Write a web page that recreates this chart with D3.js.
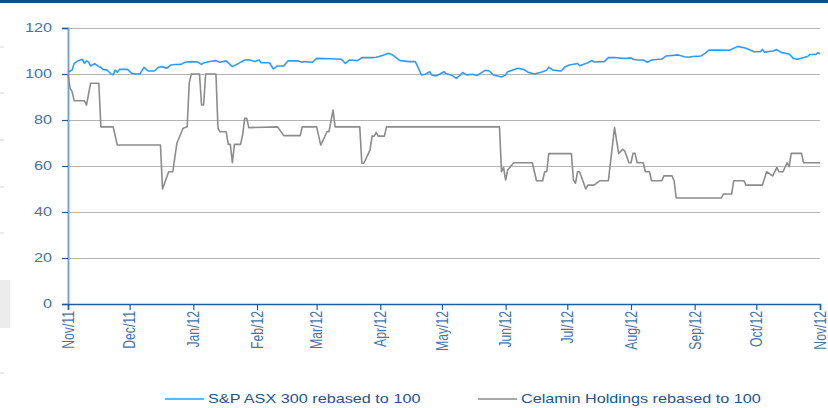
<!DOCTYPE html>
<html><head><meta charset="utf-8">
<script src="https://cdn.jsdelivr.net/npm/d3@7"></script>
<style>
html,body{margin:0;padding:0;background:#fff;}
svg{display:block;font-family:"Liberation Sans",Arial,Helvetica,sans-serif;}
</style></head>
<body>
<svg id="chart" width="828" height="408"></svg>
<script>
// ---------- DATA ----------
const seriesNames = ["S&P ASX 300 rebased to 100", "Celamin Holdings rebased to 100"];
const yTicks = [0, 20, 40, 60, 80, 100, 120];
const xTickLabels = ["Nov/11","Dec/11","Jan/12","Feb/12","Mar/12","Apr/12","May/12","Jun/12","Jul/12","Aug/12","Sep/12","Oct/12","Nov/12"];
const xTickDates = ["2011-11-01","2011-12-01","2012-01-01","2012-02-01","2012-03-01","2012-04-01","2012-05-01","2012-06-01","2012-07-01","2012-08-01","2012-09-01","2012-10-01","2012-11-01"];

const asxDates = ["2011-11-01","2011-11-03","2011-11-04","2011-11-06","2011-11-08","2011-11-09","2011-11-10","2011-11-11","2011-11-12","2011-11-14","2011-11-16","2011-11-17","2011-11-18","2011-11-20","2011-11-22","2011-11-23","2011-11-24","2011-11-25","2011-11-26","2011-11-30","2011-12-02","2011-12-04","2011-12-06","2011-12-08","2011-12-10","2011-12-13","2011-12-15","2011-12-17","2011-12-19","2011-12-21","2011-12-23","2011-12-26","2011-12-28","2011-12-31","2012-01-03","2012-01-05","2012-01-06","2012-01-09","2012-01-12","2012-01-14","2012-01-17","2012-01-20","2012-01-23","2012-01-26","2012-01-28","2012-01-31","2012-02-02","2012-02-03","2012-02-07","2012-02-09","2012-02-11","2012-02-14","2012-02-16","2012-02-21","2012-02-23","2012-02-24","2012-02-28","2012-03-01","2012-03-08","2012-03-13","2012-03-15","2012-03-17","2012-03-21","2012-03-23","2012-03-28","2012-03-30","2012-04-02","2012-04-05","2012-04-07","2012-04-10","2012-04-11","2012-04-15","2012-04-18","2012-04-19","2012-04-21","2012-04-23","2012-04-25","2012-04-26","2012-04-28","2012-04-30","2012-05-02","2012-05-03","2012-05-06","2012-05-08","2012-05-10","2012-05-11","2012-05-13","2012-05-16","2012-05-18","2012-05-22","2012-05-24","2012-05-26","2012-05-30","2012-06-01","2012-06-02","2012-06-07","2012-06-10","2012-06-12","2012-06-15","2012-06-19","2012-06-21","2012-06-22","2012-06-24","2012-06-28","2012-06-30","2012-07-02","2012-07-06","2012-07-07","2012-07-11","2012-07-13","2012-07-14","2012-07-19","2012-07-21","2012-07-24","2012-07-28","2012-07-30","2012-08-01","2012-08-02","2012-08-04","2012-08-07","2012-08-09","2012-08-11","2012-08-16","2012-08-18","2012-08-24","2012-08-27","2012-08-29","2012-08-31","2012-09-04","2012-09-06","2012-09-08","2012-09-12","2012-09-18","2012-09-22","2012-09-26","2012-09-30","2012-10-03","2012-10-04","2012-10-05","2012-10-09","2012-10-11","2012-10-13","2012-10-17","2012-10-19","2012-10-21","2012-10-24","2012-10-26","2012-10-27","2012-10-30","2012-10-31","2012-11-01"];
const asxValues = [100.9,101.7,104.6,105.8,106.4,104.6,105.7,105.2,103.5,104.5,103.2,102.9,102.0,101.7,100.0,99.7,101.7,100.7,102.0,102.0,100.3,100.0,100.0,102.9,101.3,101.3,102.9,103.2,102.5,103.9,104.1,104.2,105.1,105.4,105.2,104.2,104.8,105.4,105.8,105.1,105.7,103.2,104.6,106.1,106.2,105.4,106.1,104.9,104.9,102.2,103.5,103.5,105.7,105.7,105.1,105.4,105.1,106.8,106.6,106.4,104.6,106.1,105.8,107.1,107.1,107.3,108.0,109.0,108.3,106.1,105.8,105.4,105.4,103.6,99.6,99.9,101.0,99.6,99.1,100.0,101.0,100.2,99.3,98.1,99.6,100.7,99.6,99.9,99.3,101.6,101.3,99.6,98.7,99.6,101.0,102.5,101.9,100.7,100.0,101.0,101.7,103.0,101.7,101.3,103.2,103.9,104.6,103.6,104.9,105.9,105.2,105.4,107.1,107.2,106.8,106.8,107.0,106.4,106.1,106.1,105.1,106.1,106.5,107.8,108.3,107.5,107.3,107.6,107.8,109.0,110.4,110.4,110.3,112.0,111.2,109.7,109.7,110.7,109.5,110.0,110.6,109.4,108.7,106.8,106.4,107.2,107.6,108.5,108.5,109.3,108.8];

const celDates = ["2011-11-01","2011-11-02","2011-11-03","2011-11-04","2011-11-09","2011-11-10","2011-11-12","2011-11-16","2011-11-17","2011-11-23","2011-11-25","2011-12-16","2011-12-17","2011-12-20","2011-12-22","2011-12-24","2011-12-27","2011-12-29","2011-12-30","2011-12-31","2012-01-04","2012-01-05","2012-01-06","2012-01-07","2012-01-12","2012-01-13","2012-01-14","2012-01-17","2012-01-18","2012-01-19","2012-01-20","2012-01-21","2012-01-24","2012-01-25","2012-01-26","2012-01-27","2012-01-28","2012-02-11","2012-02-14","2012-02-22","2012-02-23","2012-03-01","2012-03-03","2012-03-05","2012-03-06","2012-03-07","2012-03-09","2012-03-10","2012-03-22","2012-03-23","2012-03-24","2012-03-27","2012-03-28","2012-03-29","2012-03-30","2012-03-31","2012-04-03","2012-04-04","2012-05-29","2012-05-30","2012-05-31","2012-06-01","2012-06-02","2012-06-05","2012-06-14","2012-06-16","2012-06-19","2012-06-20","2012-06-21","2012-06-22","2012-07-03","2012-07-04","2012-07-05","2012-07-06","2012-07-07","2012-07-10","2012-07-11","2012-07-14","2012-07-17","2012-07-21","2012-07-24","2012-07-26","2012-07-28","2012-07-29","2012-07-31","2012-08-01","2012-08-02","2012-08-03","2012-08-04","2012-08-07","2012-08-08","2012-08-10","2012-08-11","2012-08-16","2012-08-17","2012-08-21","2012-08-22","2012-08-23","2012-09-14","2012-09-15","2012-09-19","2012-09-20","2012-09-25","2012-09-26","2012-10-04","2012-10-06","2012-10-09","2012-10-11","2012-10-12","2012-10-14","2012-10-16","2012-10-17","2012-10-18","2012-10-23","2012-10-24","2012-11-01"];
const celValues = [100,93.8,92.3,88.4,88.4,86.5,96,96,77,77,69.1,69.1,50,57.5,57.5,69.9,76.4,77.1,96,100,100,86.5,86.5,100,100,76.4,74.9,74.9,69.4,69.4,61.4,69.4,69.4,73.5,80.7,80.7,76.7,77,73.2,73.2,77,77,69.1,72.8,74.9,74.9,84.3,77,77,61.2,61.2,67,73,73,74.6,73,73,77,77,57.5,59.3,53.9,58.3,61.4,61.4,53.6,53.6,57.5,57.5,65.4,65.4,53.9,52.5,57.5,57.5,50,51.7,51.7,53.6,53.6,76.7,65.5,67.2,66.5,61.4,61.4,65.5,65.5,61.4,61.4,57.5,57.5,53.6,53.6,55.7,55.7,53.6,46.1,46.1,47.8,47.8,53.6,53.6,51.7,51.7,57.5,55.7,59.4,57.5,57.5,61.4,59.7,65.5,65.5,61.4,61.4];

const seriesColors = ["#2f9bff", "#8c8c8c"];

// ---------- CHART ----------
const W = 828, H = 408;
const m = {left: 68, right: 8, top: 28, bottom: 104};
const svg = d3.select("#chart");
const parse = d3.timeParse("%Y-%m-%d");
const SX = 1.33; // horizontal text stretch of original
const labelColor = "#4274ad";

// top bar
svg.append("rect").attr("x", 0).attr("y", 0).attr("width", W).attr("height", 3).attr("fill", "#124f8c");

// left page artefacts
[47, 93, 140, 187, 233, 373].forEach(yy => {
  svg.append("line").attr("x1", 0).attr("x2", 4).attr("y1", yy).attr("y2", yy)
    .attr("stroke", "#dcdcdc").attr("stroke-width", 1.2);
});
svg.append("rect").attr("x", 0).attr("y", 280).attr("width", 10).attr("height", 48).attr("fill", "#ececec");

const x = d3.scaleTime()
  .domain([parse(xTickDates[0]), parse(xTickDates[xTickDates.length - 1])])
  .range([m.left, W - m.right]);
const y = d3.scaleLinear().domain([0, 120]).range([H - m.bottom, m.top]);

// gridlines
svg.append("g").selectAll("line").data(yTicks.filter(d => d > 0)).join("line")
  .attr("x1", m.left).attr("x2", W - m.right)
  .attr("y1", d => y(d) + 0.5).attr("y2", d => y(d) + 0.5)
  .attr("stroke", "#b4b4b4").attr("stroke-width", 1);

// y axis
const yAxis = svg.append("g").attr("transform", `translate(${m.left},0)`)
  .call(d3.axisLeft(y).tickValues(yTicks).tickSize(6).tickFormat(""));
yAxis.select(".domain").attr("stroke", "#76a3cf").attr("stroke-width", 2);
yAxis.selectAll(".tick line").attr("stroke", "#1d5ea5").attr("stroke-width", 1.2);

svg.append("g").selectAll("text").data(yTicks).join("text")
  .attr("transform", d => `translate(52,${y(d)}) scale(${SX},1)`)
  .attr("text-anchor", "end").attr("dy", "0.36em")
  .attr("font-size", 12.2).attr("fill", labelColor)
  .text(d => d);

// x axis
const xAxis = svg.append("g").attr("transform", `translate(0,${y(0)})`)
  .call(d3.axisBottom(x).tickValues(xTickDates.map(parse)).tickSize(6).tickFormat(""));
xAxis.select(".domain").attr("stroke", "#1d5ea5").attr("stroke-width", 1.6);
xAxis.selectAll(".tick line").attr("stroke", "#1d5ea5").attr("stroke-width", 1.2);

svg.append("g").selectAll("text").data(xTickDates).join("text")
  .attr("transform", d => `translate(${x(parse(d))},${y(0) + 7}) scale(${SX},1) rotate(-90)`)
  .attr("text-anchor", "end").attr("dy", "0.36em")
  .attr("font-size", 12.2).attr("fill", labelColor)
  .text((d, i) => xTickLabels[i]);

// lines
const lineGen = d3.line().x(d => x(d.date)).y(d => y(d.value));
const asx = asxDates.map((d, i) => ({date: parse(d), value: asxValues[i]}));
const cel = celDates.map((d, i) => ({date: parse(d), value: celValues[i]}));

svg.append("path").datum(cel).attr("d", lineGen)
  .attr("fill", "none").attr("stroke", seriesColors[1]).attr("stroke-width", 1.6).attr("stroke-linejoin", "round");
svg.append("path").datum(asx).attr("d", lineGen)
  .attr("fill", "none").attr("stroke", seriesColors[0]).attr("stroke-width", 1.6).attr("stroke-linejoin", "round");

// legend
const legendItems = [{x: 165, name: seriesNames[0], color: seriesColors[0]},
                     {x: 478, name: seriesNames[1], color: seriesColors[1]}];
const lg = svg.append("g");
legendItems.forEach(it => {
  lg.append("line").attr("x1", it.x).attr("x2", it.x + 39).attr("y1", 399).attr("y2", 399)
    .attr("stroke", it.color).attr("stroke-width", 1.6);
  lg.append("text").attr("transform", `translate(${it.x + 43},399) scale(${SX},1)`)
    .attr("dy", "0.36em").attr("font-size", 12.2).attr("fill", "#24548e")
    .text(it.name);
});
</script>
</body></html>
